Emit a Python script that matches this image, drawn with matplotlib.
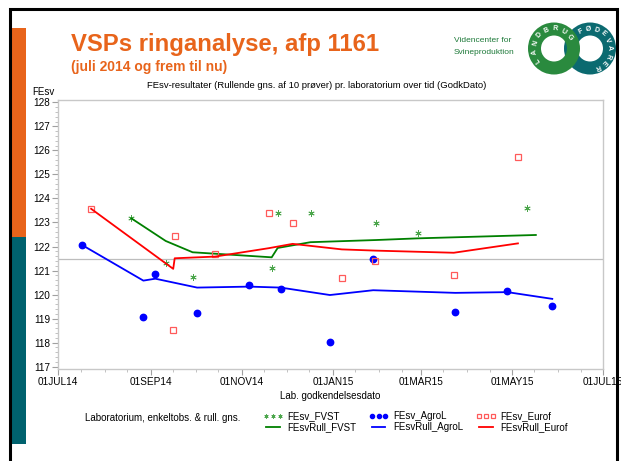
import matplotlib
matplotlib.use("Agg")
import matplotlib.pyplot as plt
import matplotlib.dates as mdates
from matplotlib.patches import Wedge, Rectangle
from matplotlib.ticker import MultipleLocator, FuncFormatter
import numpy as np
import math

plt.rcParams['font.family'] = ['Liberation Sans', 'DejaVu Sans']

W, H = 621, 461

# data
fvst_dates = ['2014-08-19', '2014-09-11', '2014-09-29', '2014-11-21', '2014-11-25',
              '2014-12-17', '2015-01-30', '2015-02-27', '2015-05-11']
fvst_vals = [123.17, 121.32, 120.72, 121.09, 123.41, 123.41, 122.99, 122.58, 123.60]
fvst_roll_dates = ['2014-08-19', '2014-09-11', '2014-09-29', '2014-11-21', '2014-11-25',
                   '2014-12-17', '2015-01-30', '2015-02-27', '2015-05-17']
fvst_roll = [123.17, 122.23, 121.76, 121.55, 121.94, 122.18, 122.27, 122.34, 122.48]

agrol_dates = ['2014-07-17', '2014-08-27', '2014-09-04', '2014-10-02', '2014-11-06',
               '2014-11-27', '2014-12-30', '2015-01-28', '2015-03-24', '2015-04-28',
               '2015-05-28']
agrol_vals = [122.06, 119.06, 120.85, 119.23, 120.40, 120.22, 118.03, 121.49, 119.26,
              120.16, 119.51]
agrol_roll = [122.06, 120.58, 120.66, 120.29, 120.33, 120.29, 119.98, 120.18, 120.07,
              120.10, 119.82]

eurof_dates = ['2014-07-23', '2014-09-16', '2014-09-17', '2014-10-14', '2014-11-19',
               '2014-12-05', '2015-01-07', '2015-01-29', '2015-03-23', '2015-05-05']
eurof_vals = [123.57, 118.53, 122.45, 121.69, 123.41, 122.96, 120.70, 121.41, 120.80,
              125.72]
eurof_roll = [123.57, 121.07, 121.51, 121.58, 121.93, 122.11, 121.88, 121.83, 121.74,
              122.13]

ref_level = 121.5


def d(lst):
    return np.array(lst, dtype='datetime64[D]')


fig = plt.figure(figsize=(W / 100, H / 100), dpi=100)

# decoration layer in pixel coordinates
deco = fig.add_axes([0, 0, 1, 1], zorder=0)
deco.set_xlim(0, W)
deco.set_ylim(H, 0)
deco.axis('off')

# slide frame
deco.plot([10, 10, 617, 617], [H, 9, 9, H], color='black', lw=2.2, solid_joinstyle='miter')
deco.add_patch(Rectangle((12, 28), 14, 209, color='#E8641B', lw=0))
deco.add_patch(Rectangle((12, 237), 14, 207, color='#00626E', lw=0))

# logo rings
def ring(cx, cy, color, word, th0, th1):
    deco.add_patch(Wedge((cx, cy), 26, 0, 360, width=13, color=color, lw=0))
    angs = np.linspace(th0, th1, len(word))
    for ch, th in zip(word, angs):
        t = math.radians(th)
        deco.text(cx + 19.5 * math.cos(t), cy - 19.5 * math.sin(t), ch, color='white',
                  fontsize=5, fontweight='bold', rotation=th - 90,
                  ha='center', va='center')

ring(590, 48.5, '#0B6A70', 'FØDEVARER', 118, -68)
ring(554, 48.5, '#2A8A3E', 'LANDBRUG', 215, 35)

fig.text(71 / W, 1 - 44 / H, 'VSPs ringanalyse, afp 1161', color='#E8641B',
         fontsize=17.2, fontweight='bold', va='center', ha='left')
fig.text(71 / W, 1 - 67 / H, '(juli 2014 og frem til nu)', color='#E8641B',
         fontsize=10, fontweight='bold', va='center', ha='left')
fig.text(454 / W, 1 - 40 / H, 'Videncenter for', color='#1E7A3A', fontsize=6,
         va='center', ha='left')
fig.text(454 / W, 1 - 53 / H, 'Svineproduktion', color='#1E7A3A', fontsize=6,
         va='center', ha='left')
fig.text(317 / W, 1 - 85.5 / H,
         'FEsv-resultater (Rullende gns. af 10 prøver) pr. laboratorium over tid (GodkDato)',
         fontsize=6.8, ha='center', va='center')
fig.text(32 / W, 1 - 92 / H, 'FEsv', fontsize=7, ha='left', va='center')
fig.text(330 / W, 1 - 396 / H, 'Lab. godkendelsesdato', fontsize=7, ha='center', va='center')
fig.text(85 / W, 1 - 418 / H, 'Laboratorium, enkeltobs. & rull. gns.', fontsize=7,
         ha='left', va='center')

# main chart
ax = fig.add_axes([58.3 / W, 1 - 369 / H, (603 - 58.3) / W, (369 - 100) / H], zorder=2)
ax.set_xlim(np.datetime64('2014-07-01'), np.datetime64('2015-07-01'))
ax.set_ylim(116.9, 128.1)

ax.axhline(ref_level, color='#bdbdbd', lw=0.9, zorder=1)

h1, = ax.plot(d(fvst_dates), fvst_vals, ls='none', marker=(6, 2, 0), ms=4.5, mew=0.6,
              color='#4CA64C', label='FEsv_FVST')
h2, = ax.plot(d(fvst_roll_dates), fvst_roll, color='#008000', lw=1.3, label='FEsvRull_FVST')
h3, = ax.plot(d(agrol_dates), agrol_vals, ls='none', marker='o', ms=4.6, color='#0000FF',
              label='FEsv_AgroL')
h4, = ax.plot(d(agrol_dates), agrol_roll, color='#0000FF', lw=1.3, label='FEsvRull_AgroL')
h5, = ax.plot(d(eurof_dates), eurof_vals, ls='none', marker='s', ms=4.5, mfc='none',
              mec='#FF5A5A', mew=0.9, label='FEsv_Eurof')
h6, = ax.plot(d(eurof_dates), eurof_roll, color='#FF0000', lw=1.3, label='FEsvRull_Eurof')

for s in ax.spines.values():
    s.set_color('#c8c8c8')
    s.set_linewidth(1.0)

ax.xaxis.set_major_locator(mdates.MonthLocator(bymonth=[1, 3, 5, 7, 9, 11]))
ax.xaxis.set_minor_locator(mdates.DayLocator(bymonthday=[1, 16]))
ax.xaxis.set_major_formatter(FuncFormatter(lambda v, p: mdates.num2date(v).strftime('%d%b%y').upper()))
ax.yaxis.set_major_locator(MultipleLocator(1))
ax.yaxis.set_minor_locator(MultipleLocator(0.2))
ax.tick_params(which='major', length=4, color='#a0a0a0', labelsize=7.2, pad=2)
ax.tick_params(which='minor', length=2, color='#b8b8b8')

leg = fig.legend(handles=[h1, h2, h3, h4, h5, h6], ncol=3, loc='upper left',
                 bbox_to_anchor=(263 / W, 1 - 411 / H), frameon=False, fontsize=7,
                 numpoints=3, markerscale=0.65, handlelength=2.0, handletextpad=0.5,
                 columnspacing=1.3, labelspacing=0.15, borderpad=0, borderaxespad=0)

fig.savefig('out.png', dpi=100)
